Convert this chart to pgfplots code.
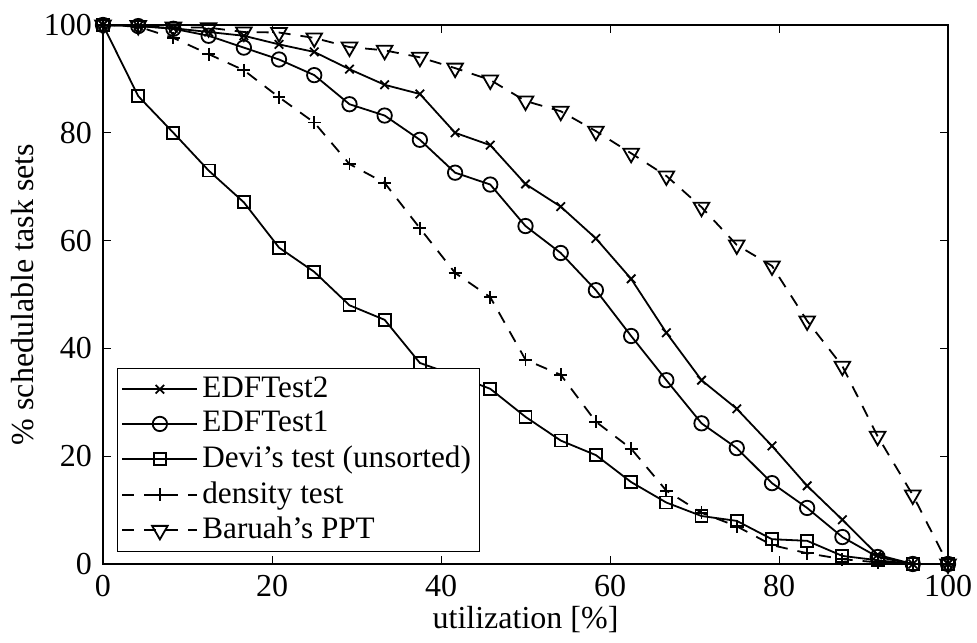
\documentclass[border=0pt]{standalone}
\usepackage{pgfplots}
\pgfplotsset{compat=1.18}
\usepackage{fontspec}
\setmainfont{Liberation Serif}
\begin{document}
\fontsize{16}{18}\selectfont
\begin{tikzpicture}
\begin{axis}[
  scale only axis, width=422.5pt, height=269.5pt,
  xmin=0, xmax=100, ymin=0, ymax=100,
  xtick={0,20,...,100}, ytick={0,20,...,100},
  tick align=inside, major tick length=4pt,
  tick style={black, line width=0.5pt},
  axis line style={line width=0.8pt},
  /pgf/number format/assume math mode=true,
  tick label style={font=\fontsize{16}{18}\selectfont},
  label style={font=\fontsize{16}{18}\selectfont},
  xlabel={utilization [\%]},
  ylabel={\% schedulable task sets},
  xlabel style={at={(axis description cs:0.5,0)}, anchor=center, yshift=-28pt},
  ylabel style={at={(axis description cs:0,0.5)}, anchor=center, yshift=40pt},
  legend style={at={(axis description cs:0.0166,0.0223)}, anchor=south west,
    font=\fontsize{15.6}{17.5}\selectfont, draw=black,
    row sep=0.6pt, inner xsep=2pt, inner ysep=2pt},
  legend cell align=left,
  legend image code/.code={
    \draw[mark repeat=2,mark phase=2] plot coordinates {(0cm,0cm) (0.66cm,0cm) (1.32cm,0cm)};
  },
  every axis plot/.append style={black, line width=0.9pt},
]
\addplot[mark=x, mark size=3pt, mark options={solid}] coordinates {
(0,100) (4.17,99.8) (8.33,99.4) (12.5,98.7) (16.67,98.0) (20.83,96.4) (25,95.0) (29.17,91.8) (33.33,88.9) (37.5,87.2) (41.67,80.0) (45.83,77.7) (50,70.5) (54.17,66.3) (58.33,60.4) (62.5,52.9) (66.67,42.9) (70.83,34.1) (75,28.8) (79.17,21.9) (83.33,14.5) (87.5,8.2) (91.67,1.7) (95.83,0) (100,0)};
\addlegendentry{EDFTest2}
\addplot[mark=o, mark size=3.6pt, mark options={solid}] coordinates {
(0,100) (4.17,99.8) (8.33,99.3) (12.5,98.0) (16.67,95.8) (20.83,93.6) (25,90.7) (29.17,85.3) (33.33,83.2) (37.5,78.7) (41.67,72.6) (45.83,70.4) (50,62.7) (54.17,57.7) (58.33,50.8) (62.5,42.3) (66.67,34.1) (70.83,26.1) (75,21.5) (79.17,15.0) (83.33,10.4) (87.5,5.0) (91.67,1.3) (95.83,0) (100,0)};
\addlegendentry{EDFTest1}
\addplot[mark=square, mark size=3pt, mark options={solid}] coordinates {
(0,100) (4.17,86.8) (8.33,80.0) (12.5,73.0) (16.67,67.1) (20.83,58.7) (25,54.2) (29.17,48.0) (33.33,45.3) (37.5,37.3) (41.67,35.0) (45.83,32.5) (50,27.3) (54.17,22.9) (58.33,20.2) (62.5,15.2) (66.67,11.4) (70.83,8.9) (75,8.0) (79.17,4.6) (83.33,4.3) (87.5,1.5) (91.67,0.7) (95.83,0) (100,0)};
\addlegendentry{Devi's test (unsorted)}
\addplot[mark=+, mark size=3.2pt, mark options={solid}, dash pattern=on 6pt off 5pt] coordinates {
(0,100) (4.17,99.7) (8.33,97.6) (12.5,94.6) (16.67,91.6) (20.83,86.6) (25,81.9) (29.17,74.2) (33.33,70.7) (37.5,62.3) (41.67,54.0) (45.83,49.5) (50,37.9) (54.17,35.1) (58.33,26.4) (62.5,21.4) (66.67,13.6) (70.83,9.5) (75,7.0) (79.17,3.5) (83.33,2.0) (87.5,0.9) (91.67,0.3) (95.83,0) (100,0)};
\addlegendentry{density test}
\addplot[mark=triangle, mark size=4.5pt, mark options={solid, rotate=180}, dash pattern=on 6pt off 5pt] coordinates {
(0,100) (4.17,99.9) (8.33,99.6) (12.5,99.5) (16.67,98.7) (20.83,98.6) (25,97.6) (29.17,95.9) (33.33,95.3) (37.5,94.0) (41.67,92.0) (45.83,89.8) (50,85.9) (54.17,84.0) (58.33,80.3) (62.5,76.2) (66.67,72.0) (70.83,66.2) (75,59.2) (79.17,55.3) (83.33,45.1) (87.5,36.7) (91.67,23.7) (95.83,12.8) (100,0)};
\addlegendentry{Baruah's PPT}
\end{axis}
\pgfresetboundingbox
\path[use as bounding box] ([shift={(-51.5pt,-39pt)}]current axis.south west) rectangle ([shift={(14.5pt,12.5pt)}]current axis.north east);
\end{tikzpicture}
\end{document}
